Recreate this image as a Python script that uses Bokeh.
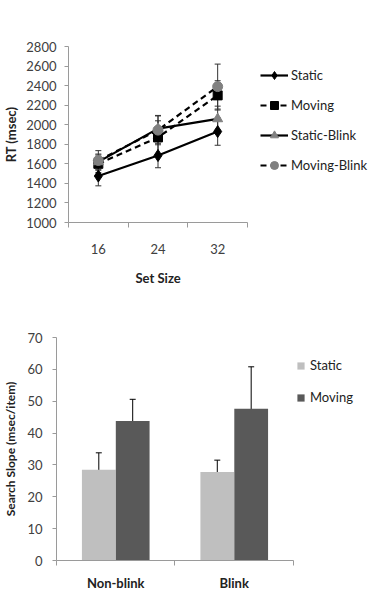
from bokeh.plotting import figure
from bokeh.models import (Range1d, FixedTicker, Legend, LegendItem, Whisker,
                          ColumnDataSource, TeeHead, Title)
from bokeh.embed import file_html
from bokeh.resources import INLINE

# ---------- data ----------
set_sizes = ["16", "24", "32"]
static_rt = [1475, 1685, 1930]
static_err = [100, 125, 140]
moving_rt = [1600, 1870, 2300]
moving_err = [90, 170, 150]
static_blink_rt = [1620, 1960, 2060]
static_blink_err = [80, 130, 130]
moving_blink_rt = [1635, 1945, 2390]
moving_blink_err = [100, 150, 230]

conditions = ["Non-blink", "Blink"]
slope_static = [28.5, 27.8]
slope_static_err = [5.3, 3.7]
slope_moving = [43.8, 47.6]
slope_moving_err = [6.8, 13.2]

FONT = "Lato"
TXT = "#404040"
AX = "#9a9a9a"

def style(p):
    p.outline_line_color = None
    p.xgrid.visible = False
    p.ygrid.visible = False
    p.background_fill_color = "white"
    p.border_fill_color = "white"
    for ax in (p.xaxis[0], p.yaxis[0]):
        ax.axis_line_color = AX
        ax.major_tick_line_color = AX
        ax.minor_tick_line_color = AX
        ax.major_label_text_font = FONT
        ax.major_label_text_color = TXT
        ax.major_label_text_font_size = "13px"
        ax.axis_label_text_font = FONT
        ax.axis_label_text_font_style = "bold"
        ax.axis_label_text_color = "#222222"

# ---------- top chart ----------
n1 = len(set_sizes)
p1 = figure(width=369, height=300, output_backend="svg", toolbar_location=None,
            x_range=Range1d(0, n1 * 301 / 179), y_range=Range1d(1000, 2800),
            min_border_left=68, min_border_right=0, min_border_top=46,
            min_border_bottom=78)
style(p1)
xs = [i + 0.5 for i in range(n1)]
p1.xaxis.bounds = (0, n1)
p1.xaxis.ticker = FixedTicker(ticks=xs, minor_ticks=list(range(n1 + 1)))
p1.xaxis.major_label_overrides = {x: s for x, s in zip(xs, set_sizes)}
p1.xaxis.major_tick_out = 0
p1.xaxis.major_tick_in = 0
p1.xaxis.minor_tick_out = 5
p1.xaxis.minor_tick_in = 0
p1.xaxis.major_label_standoff = 16
p1.yaxis.ticker = FixedTicker(ticks=list(range(1000, 2801, 200)))
p1.yaxis.major_tick_out = 4
p1.yaxis.major_tick_in = 0
p1.yaxis.minor_tick_out = 0
p1.yaxis.major_label_standoff = 8
p1.yaxis.axis_label = "RT (msec)"
p1.yaxis.axis_label_standoff = 4
p1.yaxis.axis_label_text_font_size = "13px"

xt = Title(text="Set Size", align="left", offset=67, text_font=FONT,
           text_font_size="13px", text_font_style="bold", text_color="#222222",
           standoff=22)
p1.add_layout(xt, "below")

series = [
    ("Static", static_rt, static_err, "solid", "diamond", "black", 12),
    ("Moving", moving_rt, moving_err, "6 4", "square", "black", 9),
    ("Static-Blink", static_blink_rt, static_blink_err, "solid", "triangle", "#808080", 10),
    ("Moving-Blink", moving_blink_rt, moving_blink_err, "6 4", "circle", "#808080", 10),
]
items = []
for name, ys, errs, dash, marker, col, sz in series:
    src = ColumnDataSource(dict(x=xs, y=ys,
                                lo=[y - e for y, e in zip(ys, errs)],
                                hi=[y + e for y, e in zip(ys, errs)]))
    w = Whisker(source=src, base="x", lower="lo", upper="hi",
                line_color="#333333", line_width=1,
                lower_head=TeeHead(size=6, line_color="#333333", line_width=1),
                upper_head=TeeHead(size=6, line_color="#333333", line_width=1))
    p1.add_layout(w)
    ln = p1.line("x", "y", source=src, line_color="black", line_width=2.2,
                 line_dash=dash)
    mk = p1.scatter("x", "y", source=src, marker=marker, size=sz,
                    fill_color=col, line_color=col)
    items.append(LegendItem(label=name, renderers=[ln, mk]))

leg1 = Legend(items=items, location=(192, 47))
leg1.background_fill_alpha = 0
leg1.border_line_color = None
leg1.padding = 0
leg1.margin = 0
leg1.spacing = 10
leg1.glyph_width = 28
leg1.glyph_height = 20
leg1.label_height = 20
leg1.label_standoff = 3
leg1.label_text_font = FONT
leg1.label_text_font_size = "13px"
leg1.label_text_color = "#222222"
p1.add_layout(leg1)

# ---------- bottom chart ----------
n2 = len(conditions)
p2 = figure(width=369, height=308, output_backend="svg", toolbar_location=None,
            x_range=Range1d(0, n2 * 315 / 238.5), y_range=Range1d(0, 70),
            min_border_left=54, min_border_right=0, min_border_top=37,
            min_border_bottom=48)
style(p2)
cx = [i + 0.5 for i in range(n2)]
p2.xaxis.bounds = (0, n2)
p2.xaxis.ticker = FixedTicker(ticks=cx, minor_ticks=list(range(n2 + 1)))
p2.xaxis.major_label_overrides = {x: s for x, s in zip(cx, conditions)}
p2.xaxis.major_tick_out = 0
p2.xaxis.major_tick_in = 0
p2.xaxis.minor_tick_out = 5
p2.xaxis.minor_tick_in = 0
p2.xaxis.major_label_standoff = 9
p2.xaxis.major_label_text_font_style = "bold"
p2.xaxis.major_label_text_color = "#222222"
p2.xaxis.major_label_text_font_size = "13px"
p2.yaxis.ticker = FixedTicker(ticks=list(range(0, 71, 10)))
p2.yaxis.major_tick_out = 4
p2.yaxis.major_tick_in = 0
p2.yaxis.minor_tick_out = 0
p2.yaxis.major_label_standoff = 10
p2.yaxis.axis_label = "Search Slope (msec/item)"
p2.yaxis.axis_label_standoff = 6
p2.yaxis.axis_label_text_font_size = "12px"

bw = 0.285
off = 0.143
items2 = []
for name, vals, errs, col, sgn in [("Static", slope_static, slope_static_err, "#bfbfbf", -1),
                                   ("Moving", slope_moving, slope_moving_err, "#595959", 1)]:
    bx = [c + sgn * off for c in cx]
    src = ColumnDataSource(dict(x=bx, top=vals,
                                lo=[v - e for v, e in zip(vals, errs)],
                                hi=[v + e for v, e in zip(vals, errs)]))
    r = p2.vbar(x="x", top="top", bottom=0, width=bw, source=src,
                fill_color=col, line_color=None)
    w = Whisker(source=src, base="x", lower="lo", upper="hi",
                line_color="black", line_width=1,
                lower_head=TeeHead(size=6, line_color="black", line_width=1),
                upper_head=TeeHead(size=6, line_color="black", line_width=1))
    p2.add_layout(w)
    items2.append(LegendItem(label=name, renderers=[r]))

leg2 = Legend(items=items2, location=(240, 153))
leg2.background_fill_alpha = 0
leg2.border_line_color = None
leg2.padding = 0
leg2.margin = 0
leg2.spacing = 12
leg2.glyph_width = 9
leg2.glyph_height = 9
leg2.label_height = 20
leg2.label_standoff = 5
leg2.label_text_font = FONT
leg2.label_text_font_size = "13px"
leg2.label_text_color = "#222222"
p2.add_layout(leg2)

open("out.html", "w").write(file_html([p1, p2], INLINE))
